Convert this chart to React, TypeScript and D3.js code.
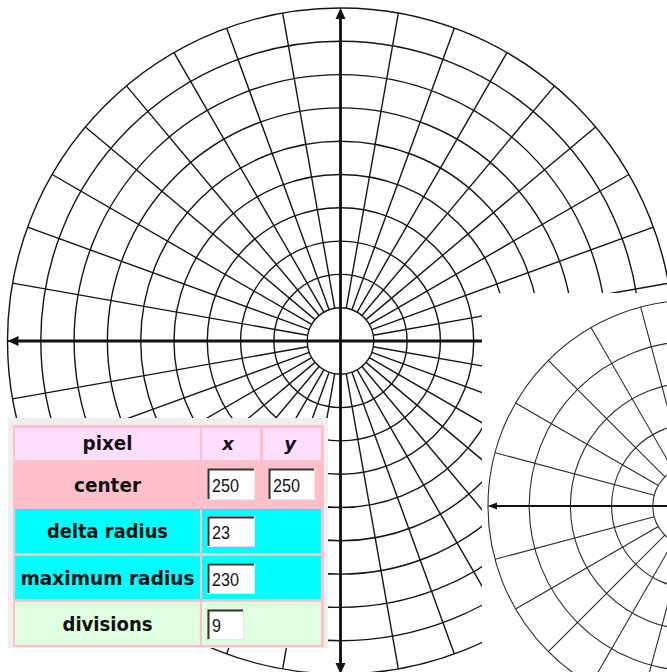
import React from "react";
import * as d3 from "d3";

// ---- data ----
const centerValues = [250, 250];
const deltaRadius = 23;
const maxRadius = 230;
const divisions = 9;
const rowLabels = ["pixel", "center", "delta radius", "maximum radius", "divisions"];
const headerCols = ["x", "y"];
const insetDelta = 20;
const insetMax = 100;
const insetDivisions = 6;

const W = 667;
const H = 672;

function PolarGrid({ cx, cy, outer, delta, max, div, stroke, sw, axisW, arrowL, arrowW }: any) {
  const r = d3.scaleLinear().domain([0, max]).range([0, outer]);
  const rings = d3.range(delta, max + 0.001, delta);
  const angles = d3.range(0, 360, 90 / div);
  const R = r(max);
  const r0 = r(delta);
  const arrow = (dir: number) => {
    const a = (dir * Math.PI) / 2;
    const ux = Math.sin(a), uy = -Math.cos(a);
    const tx = cx + ux * R, ty = cy + uy * R;
    const bx = tx - ux * arrowL, by = ty - uy * arrowL;
    const px = -uy, py = ux;
    return `M${tx},${ty}L${bx + px * arrowW / 2},${by + py * arrowW / 2}L${bx - px * arrowW / 2},${by - py * arrowW / 2}Z`;
  };
  return (
    <g>
      {rings.map((d, i) => (
        <circle key={"c" + i} cx={cx} cy={cy} r={r(d)} fill="none" stroke={stroke} strokeWidth={sw} />
      ))}
      {angles.map((a, i) => {
        const t = (a * Math.PI) / 180;
        return (
          <line key={"l" + i}
            x1={cx + Math.cos(t) * r0} y1={cy - Math.sin(t) * r0}
            x2={cx + Math.cos(t) * R} y2={cy - Math.sin(t) * R}
            stroke={stroke} strokeWidth={sw} />
        );
      })}
      <line x1={cx - R + arrowL} y1={cy} x2={cx + R - arrowL} y2={cy} stroke="#111" strokeWidth={axisW} />
      <line x1={cx} y1={cy - R + arrowL} x2={cx} y2={cy + R - arrowL} stroke="#111" strokeWidth={axisW} />
      {[0, 1, 2, 3].map((d) => <path key={"a" + d} d={arrow(d)} fill="#111" />)}
    </g>
  );
}

function Input({ x, y, w, h, value, tl }: any) {
  return (
    <g>
      <rect x={x} y={y} width={w} height={h} fill="#fff" />
      <path d={`M${x + 0.5},${y + h}V${y + 0.5}H${x + w}`} stroke="#d8d8d8" strokeWidth={1} fill="none" />
      <path d={`M${x + 1.5},${y + h - 1}V${y + 1.5}H${x + w - 1}`} stroke="#333" strokeWidth={2} fill="none" />
      <path d={`M${x},${y + h - 0.5}H${x + w - 0.5}V${y}`} stroke="#e6e6e6" strokeWidth={1} fill="none" />
      <text x={x + 5} y={y + h - 8} fontFamily="Liberation Sans, Arial, sans-serif" fontSize={19}
        textLength={tl} lengthAdjust="spacingAndGlyphs" fill="#111">{value}</text>
    </g>
  );
}

export default function App() {
  const c1 = [15, 200];
  const c2 = [202, 260];
  const c3 = [263, 321];
  const rows = [
    [428, 460, "#ffddff"],
    [462, 507, "#ffc0cb"],
    [509, 553, "#00ffff"],
    [556, 599, "#00ffff"],
    [602, 645, "#e0ffe0"],
  ] as const;
  const baselines = [450, 492, 538, 585, 631];
  const widths = [50, 67, 121, 174, 90];
  const values = [null, null, deltaRadius, maxRadius, divisions];
  const boxW = [0, 0, 48, 48, 37];

  return (
    <div style={{ position: "absolute", left: 0, top: 0 }}>
      <svg width={W} height={H} style={{ display: "block", background: "#fff" }}>
        <PolarGrid cx={340.5} cy={341} outer={333} delta={deltaRadius} max={maxRadius} div={divisions}
          stroke="#141414" sw={1.4} axisW={2.8} arrowL={11} arrowW={10} />

        {/* inset grid */}
        <rect x={482} y={293} width={W - 482} height={H - 293} fill="#fff" />
        <svg x={482} y={293} width={W - 482} height={H - 293} overflow="hidden">
          <PolarGrid cx={694 - 482} cy={506 - 293} outer={206} delta={insetDelta} max={insetMax} div={insetDivisions}
            stroke="#2a2a2a" sw={1.1} axisW={2.2} arrowL={9} arrowW={7} />
        </svg>

        {/* table panel */}
        <rect x={8} y={418} width={320} height={230} fill="#efefef" />
        <rect x={13} y={425} width={311} height={222} fill="#ffc0cb" />
        {rows.map(([y0, y1, col], i) => (
          <g key={"r" + i}>
            <rect x={c1[0]} y={y0} width={c1[1] - c1[0]} height={y1 - y0} fill={col} />
            {i < 2 ? (
              <>
                <rect x={c2[0]} y={y0} width={c2[1] - c2[0]} height={y1 - y0} fill={col} />
                <rect x={c3[0]} y={y0} width={c3[1] - c3[0]} height={y1 - y0} fill={col} />
              </>
            ) : (
              <rect x={c2[0]} y={y0} width={c3[1] - c2[0]} height={y1 - y0} fill={col} />
            )}
            <text x={107.5} y={baselines[i]} textAnchor="middle" fontFamily="DejaVu Sans, Verdana, sans-serif"
              fontWeight="bold" fontSize={19} textLength={widths[i]} lengthAdjust="spacingAndGlyphs" fill="#111">
              {rowLabels[i]}
            </text>
            {values[i] !== null && (
              <Input x={207} y={y0 + 7} w={boxW[i]} h={31} value={String(values[i])}
                tl={String(values[i]).length * 9} />
            )}
          </g>
        ))}
        {headerCols.map((h, i) => (
          <text key={h} x={i === 0 ? 228 : 290} y={450} textAnchor="middle" fontFamily="DejaVu Sans, Verdana, sans-serif"
            fontWeight="bold" fontStyle="italic" fontSize={18} fill="#111">{h}</text>
        ))}
        <Input x={207} y={468} w={48} h={32} value={String(centerValues[0])} tl={27} />
        <Input x={268} y={468} w={47} h={32} value={String(centerValues[1])} tl={27} />
      </svg>
    </div>
  );
}
